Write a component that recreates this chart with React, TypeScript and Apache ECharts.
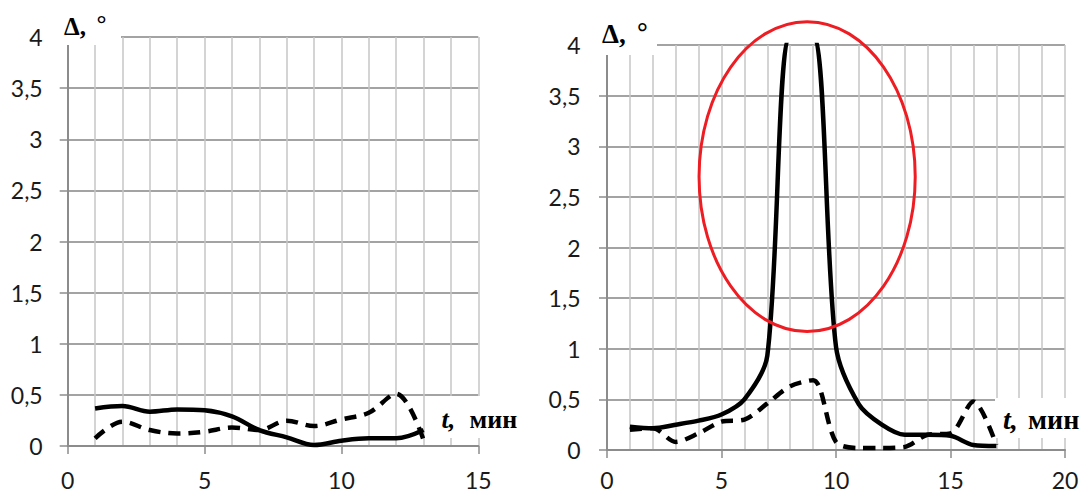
import React, { useEffect, useRef } from "react";
import * as echarts from "echarts";

// ---- data ----
const tLeft = [1, 2, 3, 4, 5, 6, 7, 8, 9, 10, 11, 12, 13];
const solidLeft = [0.367, 0.39, 0.335, 0.358, 0.35, 0.29, 0.156, 0.085, 0.01, 0.052, 0.075, 0.075, 0.156];
const dashedLeft = [0.075, 0.237, 0.156, 0.122, 0.14, 0.18, 0.156, 0.247, 0.195, 0.26, 0.325, 0.51, 0.06];

const tRight = [1, 2, 3, 4, 5, 6, 7, 8, 9, 10, 11, 12, 13, 14, 15, 16, 17];
const solidRight = [0.23, 0.215, 0.25, 0.29, 0.35, 0.5, 0.93, 4.08, 4.08, 1.02, 0.45, 0.25, 0.15, 0.15, 0.14, 0.05, 0.04];
const dashedRight = [0.2, 0.215, 0.08, 0.165, 0.28, 0.3, 0.46, 0.63, 0.69, 0.08, 0.02, 0.02, 0.03, 0.15, 0.165, 0.48, 0.05];

const yTickLabels = ["0", "0,5", "1", "1,5", "2", "2,5", "3", "3,5", "4"];
const xTickLabelsLeft = ["0", "5", "10", "15"];
const xTickLabelsRight = ["0", "5", "10", "15", "20"];

// highlight ellipse in data units of the right chart
const ellipseCenter = [8.74, 2.7];
const ellipseRadius = [4.72, 1.53];

const AXIS_COLOR = "#8c8c8c";
const MAJOR_GRID = "#a3a3a3";
const MINOR_GRID = "#c6c6c6";
const LABEL_FONT = "Lato";
const TITLE_FONT = "Liberation Serif";

function makeX(gridIndex: number, max: number, labels: string[], margin: number) {
  return {
    type: "value",
    gridIndex,
    min: 0,
    max,
    interval: 5,
    axisLine: { show: true, onZero: false, lineStyle: { color: AXIS_COLOR, width: 2 } },
    axisTick: { show: true, inside: false, length: 8, lineStyle: { color: AXIS_COLOR, width: 1.5 } },
    axisLabel: {
      margin,
      fontSize: 23,
      lineHeight: 23,
      fontFamily: LABEL_FONT,
      color: "#1a1a1a",
      formatter: (v: number) => labels[Math.round(v / 5)] ?? "",
    },
    splitLine: { show: true, lineStyle: { color: MINOR_GRID, width: 1.5 } },
    minorTick: { show: false, splitNumber: 5 },
    minorSplitLine: { show: true, lineStyle: { color: MINOR_GRID, width: 1.5 } },
  };
}

function makeY(gridIndex: number, margin: number) {
  return {
    type: "value",
    gridIndex,
    min: 0,
    max: 4,
    interval: 0.5,
    axisLine: { show: true, onZero: false, lineStyle: { color: AXIS_COLOR, width: 2 } },
    axisTick: { show: true, inside: false, length: 8, lineStyle: { color: AXIS_COLOR, width: 1.5 } },
    axisLabel: {
      margin,
      fontSize: 23,
      fontFamily: LABEL_FONT,
      color: "#1a1a1a",
      formatter: (v: number) => yTickLabels[Math.round(v / 0.5)] ?? "",
    },
    splitLine: { show: true, lineStyle: { color: MAJOR_GRID, width: 2 } },
  };
}

function lineSeries(idx: number, xs: number[], ys: number[], dashed: boolean, smooth: number) {
  return {
    type: "line",
    xAxisIndex: idx,
    yAxisIndex: idx,
    data: xs.map((x, i) => [x, ys[i]]),
    smooth,
    showSymbol: false,
    symbol: "none",
    clip: true,
    z: 3,
    lineStyle: {
      color: "#000",
      width: 4.5,
      type: dashed ? [12, 8] : "solid",
    },
  };
}

export default function App() {
  const ref = useRef<HTMLDivElement>(null);
  useEffect(() => {
    document.body.style.margin = "0";
    if (!ref.current) return;
    const chart = echarts.init(ref.current, undefined, { renderer: "svg" });
    chart.setOption({
      animation: false,
      backgroundColor: "#fff",
      grid: [
        { left: 67.7, top: 37, width: 410.6, height: 409 },
        { left: 607, top: 45, width: 458, height: 405 },
      ],
      xAxis: [makeX(0, 15, xTickLabelsLeft, 22), makeX(1, 20, xTickLabelsRight, 18)],
      yAxis: [makeY(0, 25), makeY(1, 26.5)],
      series: [
        lineSeries(0, tLeft, solidLeft, false, 0.35),
        lineSeries(0, tLeft, dashedLeft, true, 0.35),
        lineSeries(1, tRight, solidRight, false, 0.3),
        lineSeries(1, tRight, dashedRight, true, 0.3),
      ],
    });

    const c = chart.convertToPixel({ xAxisIndex: 1, yAxisIndex: 1 }, ellipseCenter) as number[];
    const e = chart.convertToPixel({ xAxisIndex: 1, yAxisIndex: 1 }, [
      ellipseCenter[0] + ellipseRadius[0],
      ellipseCenter[1] + ellipseRadius[1],
    ]) as number[];

    const titleText = (x: number, y: number, text: string, size: number, italic = false) => ({
      type: "text",
      x,
      y,
      z: 10,
      style: {
        text,
        fill: "#000",
        fontSize: size,
        fontWeight: "bold",
        fontStyle: italic ? "italic" : "normal",
        fontFamily: TITLE_FONT,
        verticalAlign: "middle",
        align: "left",
      },
    });

    chart.setOption({
      graphic: [
        { type: "rect", z: 1, shape: { x: 58, y: 0, width: 63, height: 45 }, style: { fill: "#fff" } },
        { type: "rect", z: 1, shape: { x: 596, y: 0, width: 61, height: 55 }, style: { fill: "#fff" } },
        { type: "rect", z: 1, shape: { x: 433, y: 396, width: 100, height: 42 }, style: { fill: "#fff" } },
        { type: "rect", z: 1, shape: { x: 995, y: 398, width: 97, height: 40 }, style: { fill: "#fff" } },
        titleText(64, 26.5, "Δ,", 25),
        titleText(96.5, 23.5, "°", 25),
        titleText(602, 34, "Δ,", 27),
        titleText(637, 31.5, "°", 27),
        titleText(441.5, 419.5, "t,", 26, true),
        titleText(469.5, 419.5, "мин", 26),
        titleText(1003, 419, "t,", 28, true),
        titleText(1028, 419, "мин", 28),
        {
          type: "ellipse",
          z: 5,
          shape: { cx: c[0], cy: c[1], rx: e[0] - c[0], ry: c[1] - e[1] },
          style: { fill: "none", stroke: "#ee1d23", lineWidth: 3 },
        },
      ],
    });
    return () => chart.dispose();
  }, []);
  return <div ref={ref} style={{ position: "absolute", left: 0, top: 0, width: 1092, height: 493 }} />;
}
